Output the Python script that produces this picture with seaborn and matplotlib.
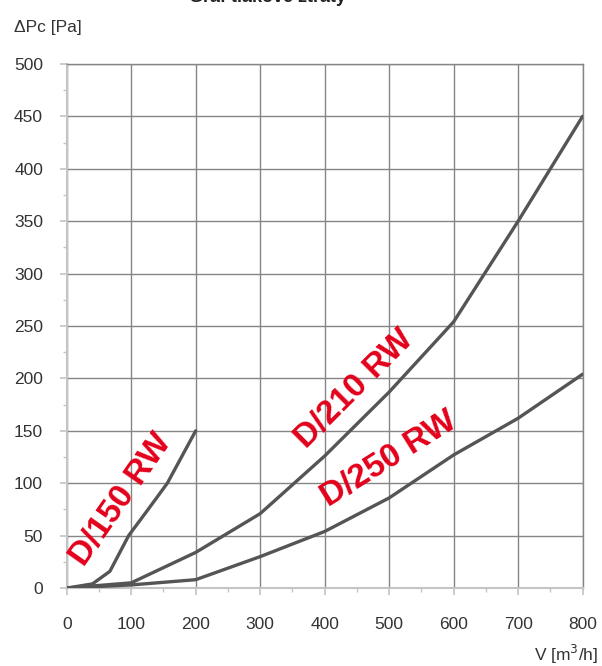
import matplotlib
matplotlib.use("Agg")
import matplotlib.pyplot as plt
import matplotlib.ticker as ticker
import seaborn as sns
import pandas as pd

# Hodnoty
v_150 = [0, 40, 67, 96, 125, 156, 200]
p_150 = [0, 4, 16, 50, 74, 100, 150]

v_210 = [0, 100, 200, 300, 400, 500, 600, 700, 800]
p_210 = [0, 5, 34, 71, 126, 187, 254, 350, 450]

v_250 = [0, 100, 200, 300, 400, 500, 600, 700, 800]
p_250 = [0, 3, 8, 30, 54, 86, 127, 162, 204]

labels = ["D/150 RW", "D/210 RW", "D/250 RW"]
label_pos = [(84, 84), (446, 190), (500, 123)]
label_rot = [55, 45, 32]

x_ticks = [0, 100, 200, 300, 400, 500, 600, 700, 800]
y_ticks = [0, 50, 100, 150, 200, 250, 300, 350, 400, 450, 500]

sns.set_theme(style="white")
plt.rcParams['font.family'] = ['Liberation Sans', 'DejaVu Sans']

fig = plt.figure(figsize=(6.02, 6.66), dpi=100)
ax = fig.add_axes([0.1108, 0.117, 0.857, 0.787])

line_color = "#555555"
for v, p in [(v_150, p_150), (v_210, p_210), (v_250, p_250)]:
    df = pd.DataFrame({"V": v, "P": p})
    sns.lineplot(data=df, x="V", y="P", ax=ax, color=line_color,
                 linewidth=2.4, sort=False, estimator=None, zorder=3)

for text, (x, y), rot in zip(labels, label_pos, label_rot):
    ax.text(x, y, text, color="#e3001b", fontsize=24, fontweight="bold",
            rotation=rot, rotation_mode="anchor", ha="center", va="center",
            zorder=4)

ax.set_xlim(0, 800)
ax.set_ylim(0, 500)
ax.set_xticks(x_ticks)
ax.set_yticks(y_ticks)
ax.xaxis.set_minor_locator(ticker.MultipleLocator(50))
ax.yaxis.set_minor_locator(ticker.MultipleLocator(25))

ax.grid(True, which="major", color="#858585", linewidth=1.0)
ax.set_xlabel("")
ax.set_ylabel("")

for side in ["top", "right"]:
    ax.spines[side].set_visible(True)
    ax.spines[side].set_color("#858585")
    ax.spines[side].set_linewidth(1.0)
for side in ["left", "bottom"]:
    ax.spines[side].set_color("#c4c4c4")
    ax.spines[side].set_linewidth(1.5)

ax.tick_params(axis="both", which="major", direction="out", length=5,
               width=1.2, color="#c4c4c4", labelsize=12.5, labelcolor="#333333")
ax.tick_params(axis="both", which="minor", direction="out", length=3,
               width=1.0, color="#c4c4c4")
ax.tick_params(axis="x", which="major", pad=16)
ax.tick_params(axis="y", which="major", pad=12)
ax.tick_params(which="both", bottom=True, left=True)

fig.text(0.023, 0.959, "ΔPc [Pa]", fontsize=12.5, color="#333333",
         ha="left", va="center")
fig.text(0.94, 0.017, "V [m$^3$/h]", fontsize=12.5, color="#333333",
         ha="center", va="center")
# titulek je v předloze nahoře oříznutý
fig.text(0.444, 1.004, "Graf tlakové ztráty", fontsize=13, fontweight="bold",
         color="#222222", ha="center", va="center")

fig.savefig("out.png", dpi=100)
